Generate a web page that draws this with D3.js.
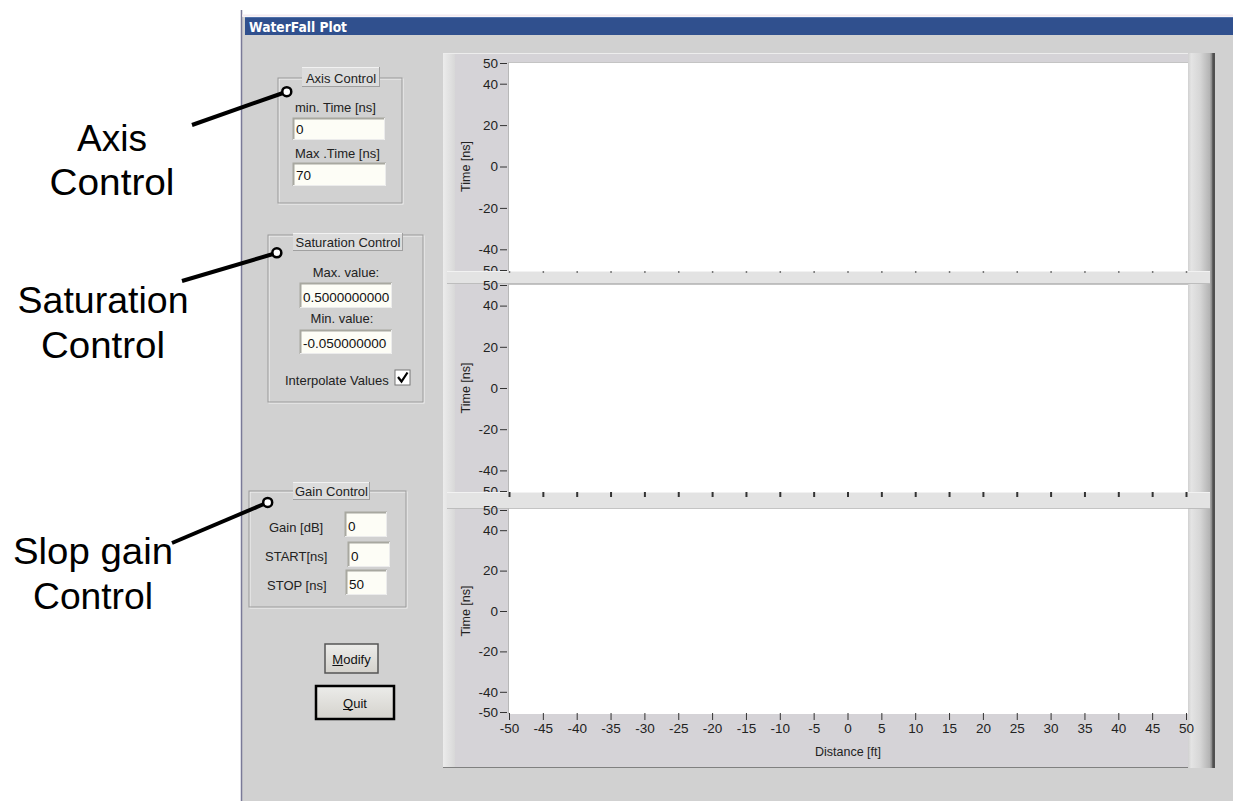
<!DOCTYPE html>
<html><head><meta charset="utf-8">
<script src="https://cdn.jsdelivr.net/npm/d3@7"></script>
<style>
html,body{margin:0;padding:0;background:#fff;}
svg text{font-family:"Liberation Sans",Arial,sans-serif;}
</style>
</head><body>
<svg id="c" width="1233" height="801"></svg>
<script>
// ---- data ----
const xTicks = [-50,-45,-40,-35,-30,-25,-20,-15,-10,-5,0,5,10,15,20,25,30,35,40,45,50];
const yTicks = [50,40,20,0,-20,-40,-50];
const xDomain = [-50,50];
const yDomain = [-50,50];
const plotNames = ["plot1","plot2","plot3"];
const yAxisTitle = "Time [ns]";
const xAxisTitle = "Distance [ft]";
const windowTitle = "WaterFall Plot";
const axisControlLabels = ["min. Time [ns]","Max .Time [ns]"];
const axisControlValues = ["0","70"];
const saturationLabels = ["Max. value:","Min. value:"];
const saturationValues = ["0.5000000000","-0.050000000"];
const gainLabels = ["Gain [dB]","START[ns]","STOP [ns]"];
const gainValues = ["0","0","50"];
const annotationLines = [["Axis","Control"],["Saturation","Control"],["Slop gain","Control"]];

// ---- layout ----
const svg = d3.select("#c");
const W=1233,H=801;
svg.append("rect").attr("width",W).attr("height",H).attr("fill","#fff");
svg.append("rect").attr("x",242).attr("y",17).attr("width",W-242).attr("height",H-17).attr("fill","#d1d1d1");
svg.append("line").attr("x1",241.5).attr("x2",241.5).attr("y1",10).attr("y2",H).attr("stroke","#7a7a98").attr("stroke-width",1.5);
svg.append("line").attr("x1",242).attr("x2",W).attr("y1",15.5).attr("y2",15.5).attr("stroke","#f3eaf0").attr("stroke-width",2);
svg.append("rect").attr("x",245).attr("y",17).attr("width",W-245).attr("height",18).attr("fill","#30508e");
svg.append("line").attr("x1",245).attr("x2",W).attr("y1",17.5).attr("y2",17.5).attr("stroke","#5070a8");
svg.append("text").attr("x",249).attr("y",31.5).attr("fill","#fff").attr("font-weight","bold")
  .attr("font-size",14.5).style("font-family","Tahoma,'DejaVu Sans',sans-serif").attr("textLength",98).attr("lengthAdjust","spacingAndGlyphs").text(windowTitle);

// ---- graph panel ----
const px0=443, px1=1215, py0=53, py1=768;
svg.append("rect").attr("x",px0).attr("y",py0).attr("width",px1-px0).attr("height",py1-py0).attr("fill","#d5d3d7");
const defs = svg.append("defs");
const lg = defs.append("linearGradient").attr("id","lstrip").attr("x1",0).attr("x2",1);
lg.append("stop").attr("offset",0).attr("stop-color","#ececec");
lg.append("stop").attr("offset",1).attr("stop-color","#d8d8d8");
svg.append("rect").attr("x",px0).attr("y",py0).attr("width",12).attr("height",py1-py0).attr("fill","url(#lstrip)");
svg.append("line").attr("x1",px0).attr("x2",px1).attr("y1",py0+0.5).attr("y2",py0+0.5).attr("stroke","#ededed");
svg.append("line").attr("x1",px0).attr("x2",px1).attr("y1",py1-0.5).attr("y2",py1-0.5).attr("stroke","#808080");
const rg = defs.append("linearGradient").attr("id","rbar").attr("x1",0).attr("x2",1);
[[0,"#d0d0d0"],[0.12,"#e4e4e4"],[0.45,"#d6d6d6"],[0.8,"#b4b4b4"],[0.88,"#8a8a8a"],[0.92,"#505050"],[1,"#505050"]]
  .forEach(s=>rg.append("stop").attr("offset",s[0]).attr("stop-color",s[1]));
svg.append("rect").attr("x",1188).attr("y",py0).attr("width",px1-1188).attr("height",py1-py0).attr("fill","url(#rbar)");

const x = d3.scaleLinear().domain(xDomain).range([509,1186]);
const plotRanges = [[63,270],[285,491],[510,712]];
const whiteBoxes = [[62,271],[284,492],[508,714]];
const fmt = d => String(d);

plotNames.forEach((name,i)=>{
  const [t,b] = plotRanges[i];
  const y = d3.scaleLinear().domain(yDomain).range([b,t]);
  const g = svg.append("g").attr("class",name);
  const [wt,wb] = whiteBoxes[i];
  g.append("rect").attr("x",508).attr("y",wt).attr("width",1188-508).attr("height",wb-wt).attr("fill","#fff");
  g.append("line").attr("x1",508).attr("x2",1188).attr("y1",wt+0.5).attr("y2",wt+0.5).attr("stroke","#c4c4c4");
  g.append("line").attr("x1",508.5).attr("x2",508.5).attr("y1",wt).attr("y2",wb).attr("stroke","#b8b8b8");
  const ya = g.append("g").attr("transform","translate(507,0)")
    .call(d3.axisLeft(y).tickValues(yTicks).tickSize(7).tickPadding(2).tickFormat(fmt));
  ya.select(".domain").remove();
  ya.selectAll("line").attr("stroke","#333");
  ya.selectAll("text").attr("font-size",13.5).attr("fill","#222").style("font-family","'Liberation Sans',Arial,sans-serif");
  g.append("text").attr("transform",`translate(470,${(t+b)/2}) rotate(-90)`).attr("text-anchor","middle")
    .attr("font-size",12.5).attr("fill","#222").text(yAxisTitle);
  if(i<2){
    const sy = wb, sh = plotRanges[i+1][0]-1-wb;
    g.append("rect").attr("x",447).attr("y",sy).attr("width",1210-447).attr("height",sh).attr("fill","#e3e3e3");
    g.append("line").attr("x1",447).attr("x2",1210).attr("y1",sy+sh-0.5).attr("y2",sy+sh-0.5).attr("stroke","#bdbdbd");
    g.append("line").attr("x1",447).attr("x2",1210).attr("y1",sy+0.5).attr("y2",sy+0.5).attr("stroke","#f2f2f2");
    const xa = g.append("g").attr("transform",`translate(0,${b+1})`)
      .call(d3.axisBottom(x).tickValues(xTicks).tickSize(i===0?2:5).tickFormat(""));
    xa.select(".domain").remove();
    xa.selectAll("line").attr("stroke",i===0?"#777":"#333").attr("stroke-width",i===0?1.5:2);
  } else {
    const xa = g.append("g").attr("transform",`translate(0,${b+1})`)
      .call(d3.axisBottom(x).tickValues(xTicks).tickSize(7).tickPadding(3).tickFormat(fmt));
    xa.select(".domain").remove();
    xa.selectAll("line").attr("stroke","#333");
    xa.selectAll("text").attr("font-size",13.5).attr("fill","#222").style("font-family","'Liberation Sans',Arial,sans-serif");
    g.append("text").attr("x",848).attr("y",756).attr("text-anchor","middle").attr("font-size",12.5).attr("fill","#222").text(xAxisTitle);
  }
});

// ---- controls ----
function groupBox(x0,y0,x1,y1,label,lx0,lx1,ly0,ly1){
  svg.append("rect").attr("x",x0+1).attr("y",y0+1).attr("width",x1-x0).attr("height",y1-y0).attr("fill","none").attr("stroke","#f4f4f4");
  svg.append("rect").attr("x",x0).attr("y",y0).attr("width",x1-x0).attr("height",y1-y0).attr("fill","none").attr("stroke","#9a9a9a");
  svg.append("rect").attr("x",lx0).attr("y",ly0).attr("width",lx1-lx0).attr("height",ly1-ly0).attr("fill","#dcdcdc");
  svg.append("line").attr("x1",lx0).attr("x2",lx1).attr("y1",ly0+0.5).attr("y2",ly0+0.5).attr("stroke","#f2f2f2");
  svg.append("line").attr("x1",lx0).attr("x2",lx1).attr("y1",ly1-0.5).attr("y2",ly1-0.5).attr("stroke","#a0a0a0");
  svg.append("line").attr("x1",lx1-0.5).attr("x2",lx1-0.5).attr("y1",ly0).attr("y2",ly1).attr("stroke","#a0a0a0");
  svg.append("text").attr("x",(lx0+lx1)/2).attr("y",ly1-4).attr("text-anchor","middle").attr("font-size",13).attr("fill","#222").text(label);
}
function input(x0,y0,x1,y1,val){
  const id="clip"+Math.round(x0)+"_"+Math.round(y0);
  defs.append("clipPath").attr("id",id).append("rect").attr("x",x0+2).attr("y",y0).attr("width",x1-x0-4).attr("height",y1-y0);
  svg.append("rect").attr("x",x0).attr("y",y0).attr("width",x1-x0).attr("height",y1-y0).attr("fill","#fdfdf6");
  svg.append("path").attr("d",`M${x0+0.5},${y1}V${y0+0.5}H${x1}`).attr("fill","none").attr("stroke","#a8a8a0").attr("stroke-width",2);
  svg.append("path").attr("d",`M${x0},${y1-0.5}H${x1-0.5}V${y0}`).attr("fill","none").attr("stroke","#ececec");
  svg.append("text").attr("x",x0+3).attr("y",y1-6).attr("font-size",13.5).attr("fill","#111").attr("clip-path",`url(#${id})`).text(val);
}
function text(xp,yp,s,anchor){
  svg.append("text").attr("x",xp).attr("y",yp).attr("text-anchor",anchor||"start").attr("font-size",13).attr("fill","#222").text(s);
}

groupBox(278,78,402,203,"Axis Control",302,380,67,87);
text(295,112,axisControlLabels[0]);
input(293,118,385,140,axisControlValues[0]);
text(295,158,axisControlLabels[1]);
input(293,163,386,186,axisControlValues[1]);

groupBox(268,235,423,402,"Saturation Control",293,403,233,251);
text(346,277,saturationLabels[0],"middle");
input(300,283,392,308,saturationValues[0]);
text(342,323,saturationLabels[1],"middle");
input(300,330,392,354,saturationValues[1]);
text(285,385,"Interpolate Values");
svg.append("rect").attr("x",395).attr("y",370).attr("width",15).attr("height",15).attr("fill","#fff").attr("stroke","#777");
svg.append("path").attr("d","M398,377 L401.5,381.5 L407.5,372.5").attr("fill","none").attr("stroke","#000").attr("stroke-width",2.2);

groupBox(249,491,406,607,"Gain Control",293,370,482,500);
text(269,532,gainLabels[0]);
input(345,512,387,537,gainValues[0]);
text(265,561,gainLabels[1]);
input(348,542,390,567,gainValues[1]);
text(267,590,gainLabels[2]);
input(346,570,387,595,gainValues[2]);

function button(x0,y0,x1,y1,label,bold){
  const bg = defs.append("linearGradient").attr("id","bt"+x0).attr("x1",0).attr("x2",0).attr("y1",0).attr("y2",1);
  bg.append("stop").attr("offset",0).attr("stop-color","#ececea");
  bg.append("stop").attr("offset",1).attr("stop-color","#d4d2cc");
  svg.append("rect").attr("x",x0).attr("y",y0).attr("width",x1-x0).attr("height",y1-y0).attr("fill",`url(#bt${x0})`)
    .attr("stroke",bold?"#000":"#555").attr("stroke-width",bold?2.5:1.5);
  const t = svg.append("text").attr("x",(x0+x1)/2).attr("y",(y0+y1)/2+5).attr("text-anchor","middle").attr("font-size",13).attr("fill","#111").text(label);
  const bb = t.node().getBBox();
  const cw = t.node().getSubStringLength(0,1);
  svg.append("line").attr("x1",bb.x).attr("x2",bb.x+cw).attr("y1",(y0+y1)/2+7).attr("y2",(y0+y1)/2+7).attr("stroke","#111");
}
button(325,644,378,673,"Modify",false);
button(316,686,394,719,"Quit",true);

// ---- annotations ----
const ann = [
  {lines:annotationLines[0], cx:112, y:[151,195], w:[70,125], l:[192,125,283,93]},
  {lines:annotationLines[1], cx:103, y:[313,358], w:[171,124], l:[182,281,273,254]},
  {lines:annotationLines[2], cx:93,  y:[564,609], w:[160,120], l:[172,543,264,504]}
];
ann.forEach(a=>{
  a.lines.forEach((s,j)=>svg.append("text").attr("x",a.cx).attr("y",a.y[j]).attr("text-anchor","middle")
    .attr("font-size",36).attr("fill","#000").attr("textLength",a.w[j]).attr("lengthAdjust","spacingAndGlyphs")
    .style("font-family","'Liberation Sans',Arial,sans-serif").text(s));
  svg.append("line").attr("x1",a.l[0]).attr("y1",a.l[1]).attr("x2",a.l[2]).attr("y2",a.l[3]).attr("stroke","#000").attr("stroke-width",4);
  const dx=a.l[2]-a.l[0], dy=a.l[3]-a.l[1], L=Math.hypot(dx,dy);
  svg.append("circle").attr("cx",a.l[2]+dx/L*4).attr("cy",a.l[3]+dy/L*4).attr("r",4.5).attr("fill","#fff").attr("stroke","#000").attr("stroke-width",2.5);
});
</script>
</body></html>
